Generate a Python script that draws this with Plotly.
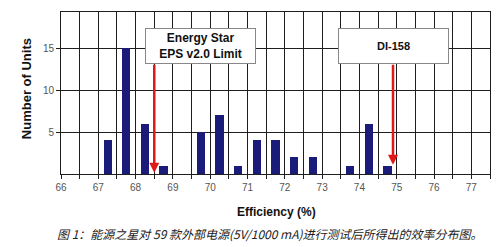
import plotly.graph_objects as go

# Data
efficiency = [67.25, 67.75, 68.25, 68.75, 69.75, 70.25, 70.75, 71.25, 71.75, 72.25, 72.75, 73.75, 74.25, 74.75]
units = [4, 15, 6, 1, 5, 7, 1, 4, 4, 2, 2, 1, 6, 1]
x_ticks = list(range(66, 78))
y_ticks = [5, 10, 15]
energy_star_limit = 68.5
di158_eff = 74.9

fig = go.Figure()
fig.add_trace(go.Bar(x=efficiency, y=units, width=0.22,
                     marker=dict(color="#1b1b7a", line=dict(width=0))))

grid = "#1e1e1e"
fig.update_layout(
    width=500, height=247,
    margin=dict(l=61, r=10, t=12, b=73),
    paper_bgcolor="white", plot_bgcolor="white",
    showlegend=False,
    font=dict(family="Liberation Sans, Arial, sans-serif", color="#444"),
    xaxis=dict(range=[66, 77.5], tickvals=x_ticks, ticktext=[str(v) for v in x_ticks],
               showgrid=True, gridcolor=grid, gridwidth=1,
               minor=dict(dtick=0.5, tick0=66, showgrid=True, gridcolor=grid, gridwidth=1,
                          ticks="outside", ticklen=4, tickcolor=grid),
               ticks="outside", ticklen=4, tickcolor=grid,
               showline=True, linecolor=grid, linewidth=1, mirror=True,
               tickfont=dict(size=10, color="#555"), zeroline=False),
    yaxis=dict(range=[0, 19.3], tickvals=y_ticks, ticktext=[str(v) for v in y_ticks],
               showgrid=True, gridcolor=grid, gridwidth=1,
               ticks="outside", ticklen=4, tickcolor=grid,
               showline=True, linecolor=grid, linewidth=1, mirror=True,
               tickfont=dict(size=10, color="#555"), zeroline=False),
    bargap=0,
)

annotations = []
# Arrows
for xv, yend in [(energy_star_limit, 0.15), (di158_eff, 1.1)]:
    annotations.append(dict(x=xv, y=yend, ax=xv, ay=13.2, xref="x", yref="y",
                            axref="x", ayref="y", showarrow=True, arrowhead=2,
                            arrowsize=0.8, arrowwidth=2.5, arrowcolor="#e01818", text=""))
# Boxes
annotations.append(dict(x=69.75, y=15.3, xref="x", yref="y", showarrow=False,
                        text="<b>Energy Star<br>EPS v2.0 Limit</b>",
                        font=dict(size=12, color="#111"), width=107, height=32,
                        bgcolor="white", bordercolor="#888", borderwidth=1, borderpad=1,
                        align="center"))
annotations.append(dict(x=74.9, y=15.3, xref="x", yref="y", showarrow=False,
                        text="<b>DI-158</b>",
                        font=dict(size=11, color="#111"), width=107, height=32,
                        bgcolor="white", bordercolor="#888", borderwidth=1, borderpad=1,
                        align="center"))
# Axis titles
annotations.append(dict(x=-0.0816, y=0.53, xref="paper", yref="paper", showarrow=False,
                        text="<b>Number of Units</b>", textangle=-90,
                        font=dict(size=13, color="#111"), xanchor="center", yanchor="middle"))
annotations.append(dict(x=0.503, y=-0.235, xref="paper", yref="paper", showarrow=False,
                        text="<b>Efficiency (%)</b>",
                        font=dict(size=12, color="#111"), xanchor="center", yanchor="middle"))
# Caption
annotations.append(dict(x=-0.014, y=-0.365, xref="paper", yref="paper", showarrow=False,
                        text="<i>图 1：能源之星对 59 款外部电源(5V/1000 mA)进行测试后所得出的效率分布图。</i>",
                        font=dict(size=12, color="#222", family="Noto Sans CJK SC"),
                        xanchor="left", yanchor="middle"))
fig.update_layout(annotations=annotations)

fig.write_html("out.html")
